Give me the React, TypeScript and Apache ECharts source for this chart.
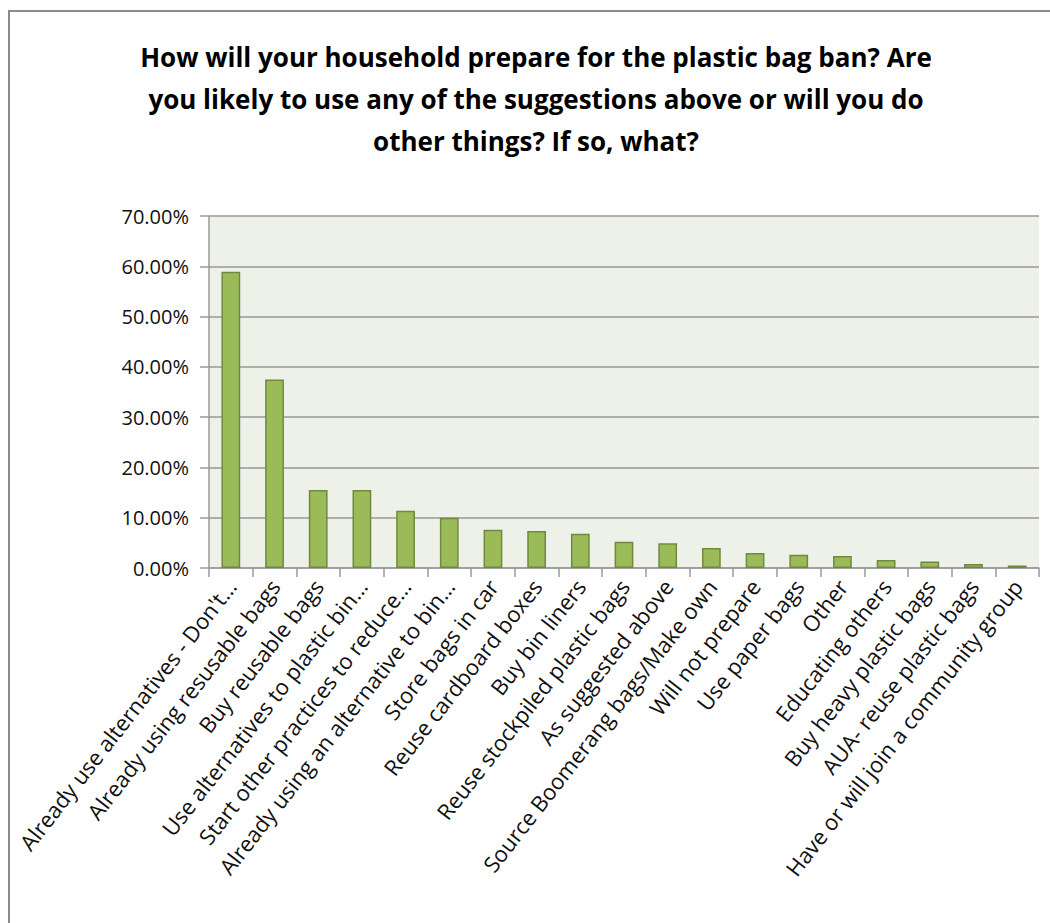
import React, { useEffect, useRef } from "react";
import * as echarts from "echarts";

const titleText =
  "How will your household prepare for the plastic bag ban? Are\nyou likely to use any of the suggestions above or will you do\nother things? If so, what?";

const categories = [
  "Already use alternatives - Don't…",
  "Already using resusable bags",
  "Buy reusable bags",
  "Use alternatives to plastic bin…",
  "Start other practices to reduce…",
  "Already using an alternative to bin…",
  "Store bags in car",
  "Reuse cardboard boxes",
  "Buy bin liners",
  "Reuse stockpiled plastic bags",
  "As suggested above",
  "Source Boomerang bags/Make own",
  "Will not prepare",
  "Use paper bags",
  "Other",
  "Educating others",
  "Buy heavy plastic bags",
  "AUA- reuse plastic bags",
  "Have or will join a community group",
];

const values = [
  58.9, 37.5, 15.5, 15.5, 11.4, 10.0, 7.6, 7.35, 6.8, 5.2, 4.9, 4.0, 3.0, 2.65,
  2.4, 1.6, 1.3, 0.8, 0.5,
];

const yTicks = { min: 0, max: 70, interval: 10 };

const FONT = "'Open Sans', sans-serif";

export default function App() {
  const ref = useRef<HTMLDivElement>(null);
  useEffect(() => {
    if (!ref.current) return;
    const chart = echarts.init(ref.current, undefined, { renderer: "svg" });
    chart.setOption({
      animation: false,
      backgroundColor: "#ffffff",
      title: {
        text: titleText,
        left: 531,
        textAlign: "center",
        top: 31,
        textStyle: {
          fontFamily: FONT,
          fontWeight: "bold",
          fontSize: 26,
          lineHeight: 42,
          color: "#000000",
        },
      },
      graphic: [
        {
          type: "rect",
          shape: { x: 9, y: 11, width: 1200, height: 1000 },
          style: { fill: "none", stroke: "#8a8a8a", lineWidth: 2 },
          silent: true,
        },
      ],
      grid: { left: 209, right: 11, top: 216, bottom: 355, show: true, backgroundColor: "#eef1e8", borderWidth: 0 },
      xAxis: {
        type: "category",
        data: categories,
        axisLine: { show: true, lineStyle: { color: "#9a9a9a", width: 1.5 } },
        axisTick: { show: true, length: 9, lineStyle: { color: "#9a9a9a", width: 1.5 } },
        axisLabel: {
          interval: 0,
          rotate: 52,
          margin: 14,
          fontFamily: FONT,
          fontSize: 22,
          color: "#111111",
        },
      },
      yAxis: {
        type: "value",
        min: yTicks.min,
        max: yTicks.max,
        interval: yTicks.interval,
        axisLine: { show: true, lineStyle: { color: "#9a9a9a", width: 1.5 } },
        axisTick: { show: true, length: 9, lineStyle: { color: "#9a9a9a", width: 1.5 } },
        splitLine: { show: true, lineStyle: { color: "#999999", width: 1.5 } },
        axisLabel: {
          margin: 20,
          fontFamily: FONT,
          fontSize: 20,
          color: "#111111",
          formatter: (v: number) => v.toFixed(2) + "%",
        },
      },
      series: [
        {
          type: "bar",
          data: values,
          barWidth: "43%",
          itemStyle: { color: "#9bbb59", borderColor: "#71893f", borderWidth: 1.5 },
        },
      ],
    });
    return () => chart.dispose();
  }, []);
  return (
    <div
      ref={ref}
      style={{ position: "absolute", left: 0, top: 0, width: 1050, height: 923 }}
    />
  );
}
